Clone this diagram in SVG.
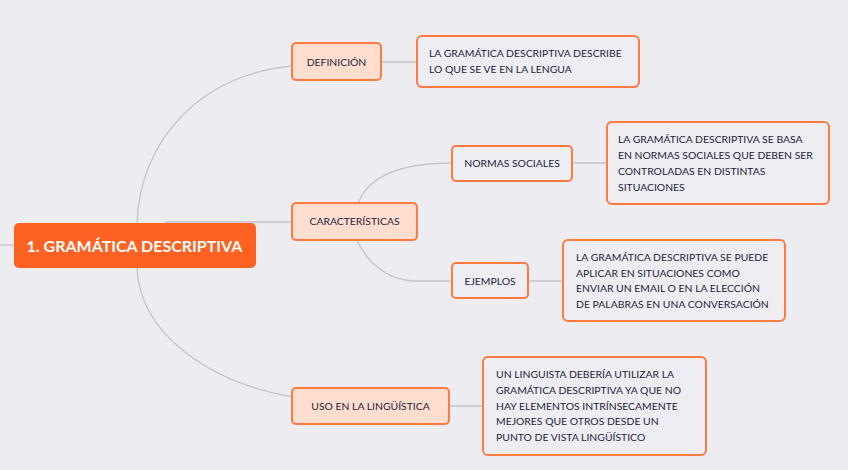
<svg xmlns="http://www.w3.org/2000/svg" width="848" height="470" viewBox="0 0 848 470">
<style>
.bg{fill:#EDECF1}
.conn path,.conn line{fill:none;stroke:#C4C3CA;stroke-width:1.3}
.topic rect{fill:#FFDDCF;stroke:#FF7A42;stroke-width:2}
.note rect{fill:#EEEDF2;stroke:#FF7A42;stroke-width:2}
.lbl{font-family:Lato,"Open Sans","Liberation Sans",sans-serif;font-size:10.4px;fill:#1D1D3B}
.tl{text-anchor:middle}
.root rect{fill:#FF6122}
.root text{font-family:Lato,"Open Sans","Liberation Sans",sans-serif;font-weight:bold;font-size:16px;fill:#FFFFFF;text-anchor:middle}
</style>
<rect class="bg" x="0" y="0" width="848" height="470"/>
<g id="connectors" class="conn">
<line x1="0" y1="245" x2="14" y2="245"/>
<path d="M137,223 C140,140 200,75 292,66"/>
<path d="M165,222 L292,222"/>
<path d="M137,268 C140,335 210,382 292,397"/>
<line x1="381" y1="62" x2="418" y2="62"/>
<path d="M358,203 C368,178 398,163 452,163"/>
<path d="M357,240 C368,265 390,280 413,281 L452,281"/>
<line x1="572" y1="163" x2="607" y2="163"/>
<line x1="528" y1="281" x2="563" y2="281"/>
<line x1="449" y1="406" x2="483" y2="406"/>
</g>
<g id="root" class="root">
<rect x="14" y="223" width="242" height="45" rx="5"/>
<text x="134.5" y="251.5">1. GRAMÁTICA DESCRIPTIVA</text>
</g>
<g id="definicion" class="topic">
<rect x="292" y="43" width="89" height="37" rx="4"/>
<text class="lbl tl" x="336.5" y="65.5">DEFINICIÓN</text>
</g>
<g id="caracteristicas" class="topic">
<rect x="292" y="203" width="125" height="37" rx="4"/>
<text class="lbl tl" x="354.5" y="225">CARACTERÍSTICAS</text>
</g>
<g id="uso" class="topic">
<rect x="292" y="388" width="157" height="36" rx="4"/>
<text class="lbl tl" x="370.5" y="409.5">USO EN LA LINGÜÍSTICA</text>
</g>
<g id="normas" class="note">
<rect x="452" y="146" width="120" height="35" rx="4"/>
<text class="lbl tl" x="512" y="166.5">NORMAS SOCIALES</text>
</g>
<g id="ejemplos" class="note">
<rect x="452" y="263" width="76" height="35" rx="4"/>
<text class="lbl tl" x="490" y="284.5">EJEMPLOS</text>
</g>
<g id="def-note" class="note">
<rect x="417" y="36" width="222" height="51" rx="5"/>
<text class="lbl" x="429" y="56.5">LA GRAMÁTICA DESCRIPTIVA DESCRIBE</text>
<text class="lbl" x="429" y="72.5">LO QUE SE VE EN LA LENGUA</text>
</g>
<g id="normas-note" class="note">
<rect x="607" y="122" width="222" height="82" rx="5"/>
<text class="lbl" x="618" y="142.5">LA GRAMÁTICA DESCRIPTIVA SE BASA</text>
<text class="lbl" x="618" y="158.5">EN NORMAS SOCIALES QUE DEBEN SER</text>
<text class="lbl" x="618" y="174.5">CONTROLADAS EN DISTINTAS</text>
<text class="lbl" x="618" y="190.5">SITUACIONES</text>
</g>
<g id="ejemplos-note" class="note">
<rect x="563" y="240" width="222" height="81" rx="5"/>
<text class="lbl" x="576" y="260.5">LA GRAMÁTICA DESCRIPTIVA SE PUEDE</text>
<text class="lbl" x="576" y="276.5">APLICAR EN SITUACIONES COMO</text>
<text class="lbl" x="576" y="292">ENVIAR UN EMAIL O EN LA ELECCIÓN</text>
<text class="lbl" x="576" y="307.5">DE PALABRAS EN UNA CONVERSACIÓN</text>
</g>
<g id="uso-note" class="note">
<rect x="483" y="357" width="223" height="98" rx="5"/>
<text class="lbl" x="496" y="377.5">UN LINGUISTA DEBERÍA UTILIZAR LA</text>
<text class="lbl" x="496" y="393.5">GRAMÁTICA DESCRIPTIVA YA QUE NO</text>
<text class="lbl" x="496" y="409.5">HAY ELEMENTOS INTRÍNSECAMENTE</text>
<text class="lbl" x="496" y="425">MEJORES QUE OTROS DESDE UN</text>
<text class="lbl" x="496" y="440.5">PUNTO DE VISTA LINGÜÍSTICO</text>
</g>
</svg>
